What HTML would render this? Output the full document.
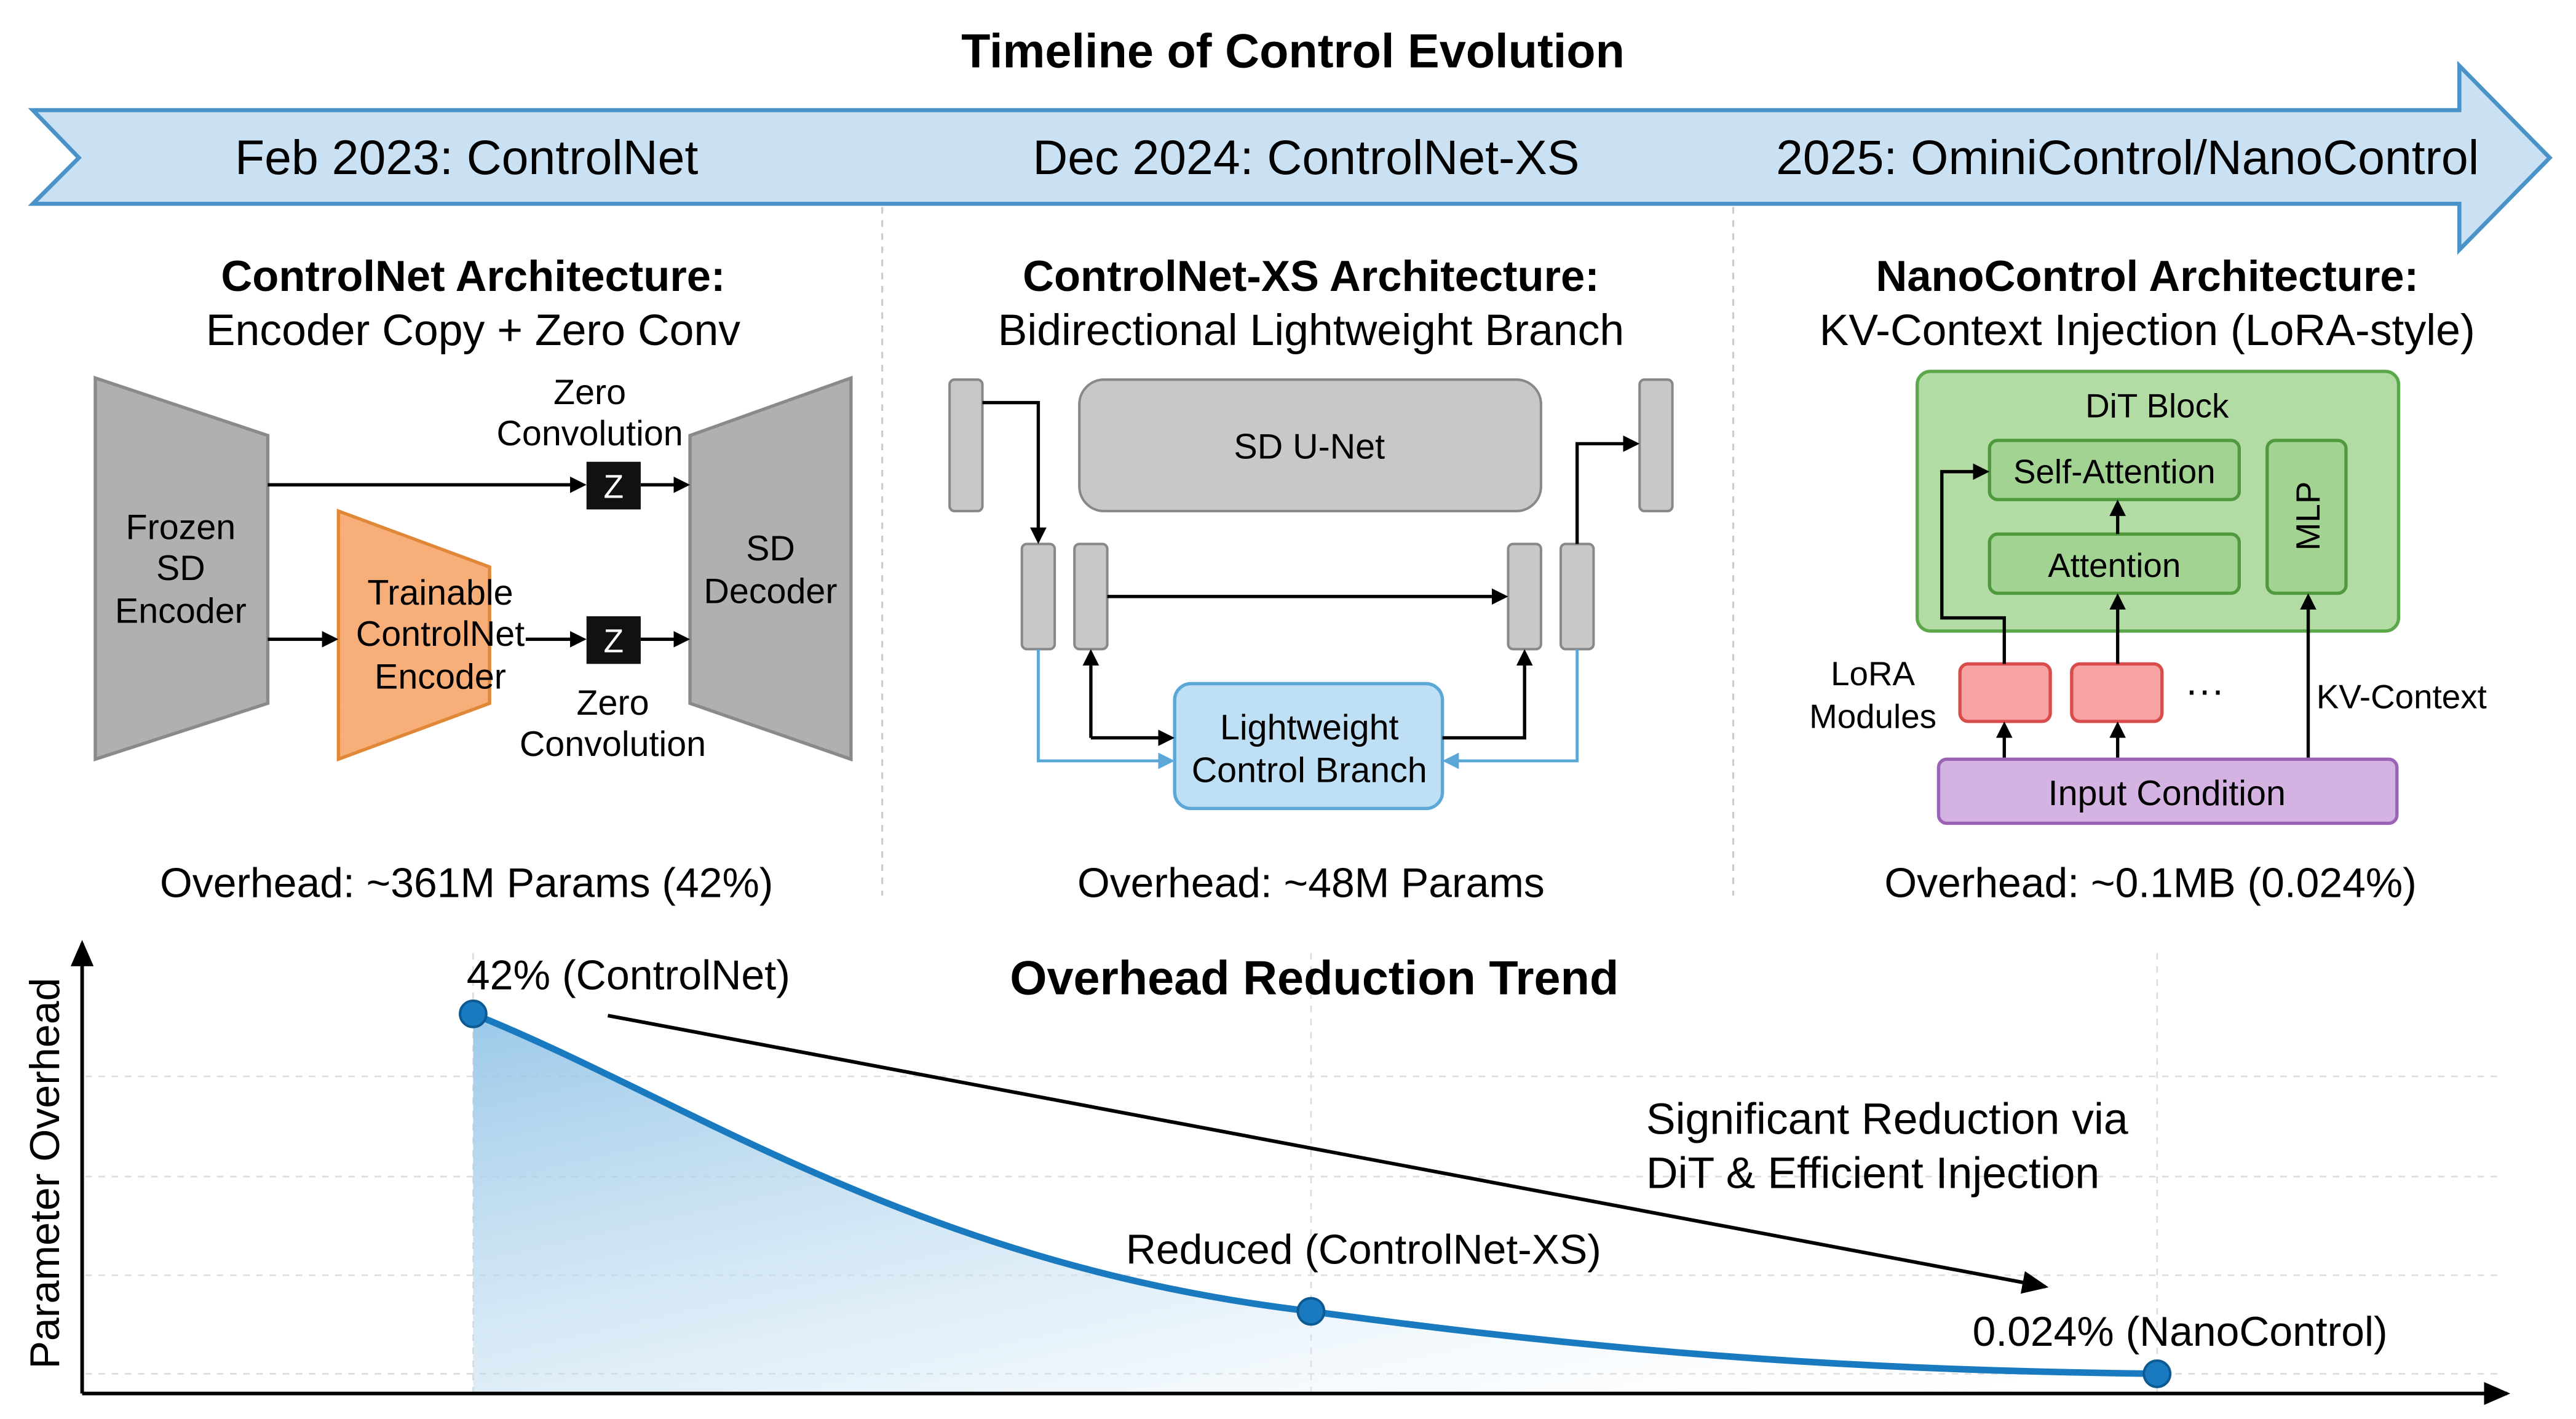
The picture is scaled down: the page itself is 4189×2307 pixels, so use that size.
<!DOCTYPE html>
<html><head><meta charset="utf-8"><style>
html,body{margin:0;padding:0;background:#fff;}
svg{display:block;font-family:"Liberation Sans",Arial,sans-serif;}
</style></head><body>
<svg width="4189" height="2307" viewBox="0 0 1568 863.5" xmlns="http://www.w3.org/2000/svg">
<defs>
<marker id="ab" markerWidth="10" markerHeight="10" refX="8" refY="5" orient="auto" markerUnits="userSpaceOnUse"><path d="M0,0 L10,5 L0,10 z" fill="#000"/></marker>
<marker id="abl" markerWidth="10" markerHeight="10" refX="8" refY="5" orient="auto" markerUnits="userSpaceOnUse"><path d="M0,0 L10,5 L0,10 z" fill="#5aa7d8"/></marker>
<marker id="abig" markerWidth="16" markerHeight="14" refX="14" refY="7" orient="auto" markerUnits="userSpaceOnUse"><path d="M0,0 L16,7 L0,14 z" fill="#000"/></marker>
<linearGradient id="area" x1="0" y1="0" x2="1" y2="1"><stop offset="0" stop-color="#8fc2e6" stop-opacity="0.9"/><stop offset="0.6" stop-color="#cfe5f4" stop-opacity="0.5"/><stop offset="1" stop-color="#ffffff" stop-opacity="0"/></linearGradient>
</defs>
<rect width="1568" height="863.5" fill="#fff"/>
<text x="787" y="41" font-size="29" font-weight="bold" text-anchor="middle">Timeline of Control Evolution</text>
<path d="M20,67 L1497,67 L1497,40 L1552,96 L1497,152 L1497,124 L20,124 L48,96 Z" fill="#c9e1f3" stroke="#4a93c8" stroke-width="2.5"/>
<g font-size="29.5" text-anchor="middle">
<text x="284" y="106">Feb 2023: ControlNet</text>
<text x="795" y="106">Dec 2024: ControlNet-XS</text>
<text x="1295" y="106">2025: OminiControl/NanoControl</text>
</g>
<g stroke="#ccc" stroke-width="1.2" stroke-dasharray="4,4"><line x1="537" y1="126" x2="537" y2="545"/><line x1="1055" y1="126" x2="1055" y2="545"/></g>

<g text-anchor="middle">
<text x="288" y="177" font-size="26.4" font-weight="bold">ControlNet Architecture:</text>
<text x="288" y="210" font-size="26.8">Encoder Copy + Zero Conv</text>
</g>
<path d="M58,230 L163,265 L163,428 L58,462 Z" fill="#b0b0b0" stroke="#8a8a8a" stroke-width="2"/>
<path d="M420,265 L518,230 L518,462 L420,428 Z" fill="#b0b0b0" stroke="#8a8a8a" stroke-width="2"/>
<path d="M206,311 L298,345 L298,428 L206,462 Z" fill="#f7ae78" stroke="#e08838" stroke-width="2"/>
<g font-size="21.5" text-anchor="middle">
<text x="110" y="328">Frozen</text><text x="110" y="353">SD</text><text x="110" y="379">Encoder</text>
<text x="469" y="341">SD</text><text x="469" y="367">Decoder</text>
<text x="268" y="368">Trainable</text><text x="268" y="393">ControlNet</text><text x="268" y="419">Encoder</text>
<text x="359" y="246">Zero</text><text x="359" y="271">Convolution</text>
<text x="373" y="435">Zero</text><text x="373" y="460">Convolution</text>
</g>
<g stroke="#000" stroke-width="2" fill="none">
<line x1="163" y1="295" x2="355" y2="295" marker-end="url(#ab)"/>
<line x1="390" y1="295" x2="418" y2="295" marker-end="url(#ab)"/>
<line x1="163" y1="389" x2="204" y2="389" marker-end="url(#ab)"/>
<line x1="320" y1="389" x2="355" y2="389" marker-end="url(#ab)"/>
<line x1="390" y1="389" x2="418" y2="389" marker-end="url(#ab)"/>
</g>
<rect x="357" y="281" width="33" height="29" fill="#111"/><text x="373.5" y="303" font-size="20" fill="#fff" text-anchor="middle">Z</text>
<rect x="357" y="375" width="33" height="29" fill="#111"/><text x="373.5" y="397" font-size="20" fill="#fff" text-anchor="middle">Z</text>
<text x="284" y="546" font-size="25.4" text-anchor="middle">Overhead: ~361M Params (42%)</text>

<g text-anchor="middle">
<text x="798" y="177" font-size="26.4" font-weight="bold">ControlNet-XS Architecture:</text>
<text x="798" y="210" font-size="26.8">Bidirectional Lightweight Branch</text>
</g>
<g fill="#c8c8c8" stroke="#888" stroke-width="1.5">
<rect x="657" y="231" width="281" height="80" rx="15"/>
<rect x="578" y="231" width="20" height="80" rx="3"/>
<rect x="998" y="231" width="20" height="80" rx="3"/>
<rect x="622" y="331" width="20" height="64" rx="3"/>
<rect x="654" y="331" width="20" height="64" rx="3"/>
<rect x="918" y="331" width="20" height="64" rx="3"/>
<rect x="950" y="331" width="20" height="64" rx="3"/>
</g>
<text x="797" y="279" font-size="21.5" text-anchor="middle">SD U-Net</text>
<rect x="715" y="416" width="163" height="76" rx="10" fill="#bfe0f4" stroke="#5aa7d8" stroke-width="2"/>
<text x="797" y="450" font-size="21.5" text-anchor="middle">Lightweight</text>
<text x="797" y="476" font-size="21.5" text-anchor="middle">Control Branch</text>
<g stroke="#000" stroke-width="2" fill="none">
<polyline points="598,245 632,245 632,329" marker-end="url(#ab)"/>
<line x1="674" y1="363" x2="916" y2="363" marker-end="url(#ab)"/>
<polyline points="960,331 960,270 996,270" marker-end="url(#ab)"/>
<line x1="664" y1="449" x2="713" y2="449" marker-end="url(#ab)"/>
<line x1="664" y1="449" x2="664" y2="397" marker-end="url(#ab)"/>
<polyline points="878,449 928,449 928,397" marker-end="url(#ab)"/>
</g>
<g stroke="#5aa7d8" stroke-width="1.8" fill="none">
<polyline points="632,395 632,463 713,463" marker-end="url(#abl)"/>
<polyline points="960,395 960,463 880,463" marker-end="url(#abl)"/>
</g>
<text x="798" y="546" font-size="25.4" text-anchor="middle">Overhead: ~48M Params</text>

<g text-anchor="middle">
<text x="1307" y="177" font-size="26.4" font-weight="bold">NanoControl Architecture:</text>
<text x="1307" y="210" font-size="26.8">KV-Context Injection (LoRA-style)</text>
</g>
<rect x="1167" y="226" width="293" height="158" rx="8" fill="#b3dca5" stroke="#5aa84a" stroke-width="2"/>
<text x="1313" y="254" font-size="20.5" text-anchor="middle">DiT Block</text>
<g fill="#a3d393" stroke="#4e9a3c" stroke-width="2">
<rect x="1211" y="268" width="152" height="36" rx="5"/>
<rect x="1211" y="325" width="152" height="36" rx="5"/>
<rect x="1380" y="268" width="48" height="93" rx="5"/>
</g>
<text x="1287" y="294" font-size="20.5" text-anchor="middle">Self-Attention</text>
<text x="1287" y="351" font-size="20.5" text-anchor="middle">Attention</text>
<text x="0" y="0" font-size="20.5" text-anchor="middle" transform="translate(1412,314) rotate(-90)">MLP</text>
<g fill="#f7a3a3" stroke="#d94c4c" stroke-width="2">
<rect x="1193" y="404" width="55" height="35" rx="5"/>
<rect x="1261" y="404" width="55" height="35" rx="5"/>
</g>
<text x="1342" y="428" font-size="24" text-anchor="middle">···</text>
<text x="1140" y="417" font-size="20.5" text-anchor="middle">LoRA</text>
<text x="1140" y="443" font-size="20.5" text-anchor="middle">Modules</text>
<rect x="1180" y="462" width="279" height="39" rx="5" fill="#d4b3e2" stroke="#9b63b5" stroke-width="2"/>
<text x="1319" y="490" font-size="21.5" text-anchor="middle">Input Condition</text>
<text x="1410" y="431" font-size="20.5">KV-Context</text>
<g stroke="#000" stroke-width="2" fill="none">
<line x1="1220" y1="461" x2="1220" y2="441" marker-end="url(#ab)"/>
<line x1="1289" y1="461" x2="1289" y2="441" marker-end="url(#ab)"/>
<polyline points="1220,404 1220,376 1182,376 1182,287 1209,287" marker-end="url(#ab)"/>
<line x1="1289" y1="404" x2="1289" y2="363" marker-end="url(#ab)"/>
<line x1="1289" y1="325" x2="1289" y2="306" marker-end="url(#ab)"/>
<line x1="1405" y1="461" x2="1405" y2="363" marker-end="url(#ab)"/>
</g>
<text x="1309" y="546" font-size="25.4" text-anchor="middle">Overhead: ~0.1MB (0.024%)</text>

<g stroke="#ddd" stroke-width="1" stroke-dasharray="4,4">
<line x1="52" y1="655" x2="1520" y2="655"/><line x1="52" y1="716" x2="1520" y2="716"/>
<line x1="52" y1="776" x2="1520" y2="776"/><line x1="52" y1="836" x2="1520" y2="836"/>
<line x1="288" y1="580" x2="288" y2="848"/><line x1="798" y1="580" x2="798" y2="848"/><line x1="1313" y1="580" x2="1313" y2="848"/>
</g>
<path d="M288,617 C420,670 560,770 798,798 C1000,826 1150,834 1313,836 L1313,848 L288,848 Z" fill="url(#area)"/>
<path d="M288,617 C420,670 560,770 798,798 C1000,826 1150,834 1313,836" fill="none" stroke="#1a7abf" stroke-width="4"/>
<g fill="#1a7abf" stroke="#0d5a92" stroke-width="1.5">
<circle cx="288" cy="617" r="8"/><circle cx="798" cy="798" r="8"/><circle cx="1313" cy="836" r="8"/>
</g>
<g stroke="#000" stroke-width="2.2" fill="none">
<line x1="50" y1="848" x2="50" y2="574" marker-end="url(#abig)"/>
<line x1="50" y1="848" x2="1526" y2="848" marker-end="url(#abig)"/>
<line x1="370" y1="618" x2="1245" y2="783" marker-end="url(#abig)"/>
</g>
<text x="0" y="0" font-size="25.5" text-anchor="middle" transform="translate(36,714) rotate(-90)">Parameter Overhead</text>
<text x="800" y="605" font-size="29" font-weight="bold" text-anchor="middle">Overhead Reduction Trend</text>
<text x="284" y="602" font-size="25.5">42% (ControlNet)</text>
<text x="830" y="769" font-size="25.4" text-anchor="middle">Reduced (ControlNet-XS)</text>
<text x="1327" y="819" font-size="25.4" text-anchor="middle">0.024% (NanoControl)</text>
<text x="1002" y="690" font-size="26.8">Significant Reduction via</text>
<text x="1002" y="723" font-size="26.8">DiT &amp; Efficient Injection</text>
</svg>
</body></html>
